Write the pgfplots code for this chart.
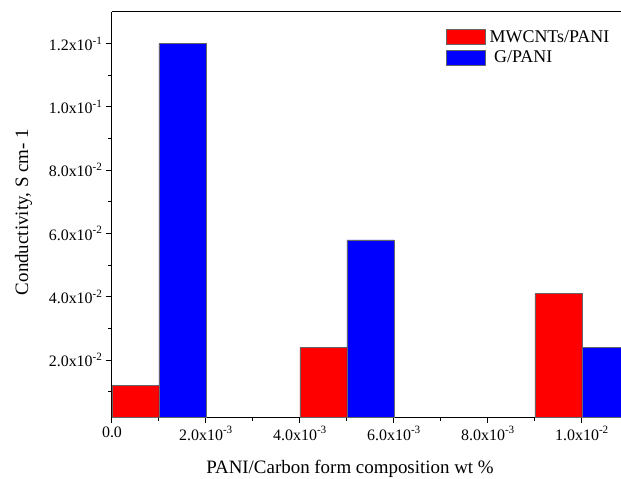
\documentclass[border=0pt]{standalone}
\usepackage{pgfplots}
\pgfplotsset{compat=1.18}
\usepackage{fontspec}
\setmainfont{Liberation Serif}
\begin{document}
\begin{tikzpicture}
\begin{axis}[
  name=ax,
  scale only axis, width=509bp, height=405bp,
  xmin=0, xmax=0.01083, ymin=0.002, ymax=0.13,
  axis x line*=box, axis y line*=left,
  xtick pos=left, ytick pos=left,
  tick align=outside,
  scaled ticks=false,
  axis line style={line width=1bp, black},
  major tick length=6bp, minor tick length=3.5bp,
  every tick/.style={black, line width=1bp},
  xtick={0,0.002,0.004,0.006,0.008,0.01},
  xticklabels={0.0, 2.0x10\textsuperscript{-3}, 4.0x10\textsuperscript{-3}, 6.0x10\textsuperscript{-3}, 8.0x10\textsuperscript{-3}, 1.0x10\textsuperscript{-2}},
  minor xtick={0.001,0.003,0.005,0.007,0.009},
  ytick={0.02,0.04,0.06,0.08,0.10,0.12},
  yticklabels={2.0x10\textsuperscript{-2}, 4.0x10\textsuperscript{-2}, 6.0x10\textsuperscript{-2}, 8.0x10\textsuperscript{-2}, 1.0x10\textsuperscript{-1}, 1.2x10\textsuperscript{-1}},
  minor ytick={0.01,0.03,0.05,0.07,0.09,0.11},
  ticklabel style={font=\fontsize{16}{18}\selectfont},
  xlabel={PANI/Carbon form composition wt \%},
  xlabel style={font=\fontsize{19}{22}\selectfont, at={(axis description cs:0.4676,-0.1407)}, anchor=base},
  ylabel={Conductivity, S cm- 1},
  ylabel style={font=\fontsize{19}{22}\selectfont, at={(axis description cs:-0.165,0.506)}, anchor=base, rotate=0},
  legend style={at={(axis description cs:0.656,0.96)}, anchor=north west, draw=none, fill=none,
    font=\fontsize{18}{20}\selectfont, inner sep=0pt, row sep=3bp, cells={anchor=west}},
  legend image code/.code={\draw[#1] (0bp,-7.5bp) rectangle (39bp,7.5bp);},
]
\addplot[ybar, bar width=0.001, bar shift=0pt, fill=red, draw=gray!80!black, line width=0.6bp]
  coordinates {(0.0005,0.012) (0.0045,0.024) (0.0095,0.041)};
\addlegendentry{\hspace{2bp}MWCNTs/PANI}
\addplot[ybar, bar width=0.001, bar shift=0pt, fill=blue, draw=gray!80!black, line width=0.6bp]
  coordinates {(0.0015,0.120) (0.0055,0.058) (0.0105,0.024)};
\addlegendentry{\hspace{2bp}\hspace{0.25em}G/PANI}
\end{axis}
\pgfresetboundingbox
\path[use as bounding box] ([xshift=-112bp,yshift=-62bp]ax.south west) rectangle ([yshift=12bp]ax.north east);
\end{tikzpicture}
\end{document}
